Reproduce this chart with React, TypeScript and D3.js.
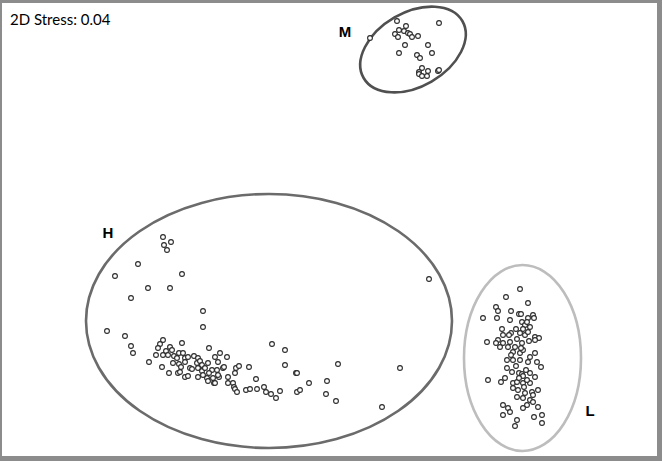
import React from 'react';
import * as d3 from 'd3';

// NMDS ordination scores (axis 1, axis 2)
const groupM: [number, number][] = [
  [0.39, 1.92], [0.66, 2.09], [0.75, 2.04], [0.68, 2.0], [0.64, 1.96], [0.67, 1.93],
  [0.73, 1.99], [0.77, 1.97], [0.79, 1.96], [0.81, 1.93], [0.87, 1.94], [1.08, 2.07],
  [0.74, 1.85], [0.68, 1.77], [0.97, 1.85], [1.01, 1.77], [0.86, 1.75], [0.89, 1.72],
  [0.91, 1.62], [0.88, 1.58], [0.88, 1.56], [0.91, 1.54], [0.97, 1.59], [0.96, 1.54],
  [1.07, 1.59], [1.08, 1.6]
];

const groupH: [number, number][] = [
  [-1.68, -0.07], [-1.67, -0.15], [-1.6, -0.12], [-1.64, -0.2], [-1.93, -0.34], [-2.16, -0.46],
  [-1.49, -0.44], [-1.83, -0.58], [-1.61, -0.58], [-2.0, -0.68], [-1.28, -0.81], [-1.28, -0.97],
  [-2.24, -1.01], [-2.06, -1.06], [-2.0, -1.16], [-1.98, -1.23], [-1.68, -1.1], [-1.71, -1.14],
  [-1.73, -1.18], [-1.75, -1.25], [-1.82, -1.32], [-1.69, -1.37], [-1.65, -1.21], [-1.61, -1.17],
  [-1.59, -1.2], [-1.63, -1.25], [-1.68, -1.25], [-1.62, -1.43], [-1.49, -1.13], [-1.57, -1.26],
  [-1.54, -1.28], [-1.52, -1.23], [-1.48, -1.23], [-1.46, -1.28], [-1.43, -1.27], [-1.58, -1.33],
  [-1.52, -1.34], [-1.5, -1.37], [-1.46, -1.32], [-1.53, -1.43], [-1.51, -1.42], [-1.46, -1.47],
  [-1.43, -1.46], [-1.41, -1.38], [-1.39, -1.39], [-1.37, -1.26], [-1.33, -1.28], [-1.34, -1.33],
  [-1.31, -1.31], [-1.29, -1.35], [-1.33, -1.38], [-1.29, -1.41], [-1.26, -1.38], [-1.23, -1.33],
  [-1.22, -1.18], [-1.16, -1.27], [-1.11, -1.23], [-1.13, -1.32], [-1.19, -1.4], [-1.22, -1.43],
  [-1.24, -1.48], [-1.23, -1.51], [-1.17, -1.53], [-1.18, -1.48], [-1.12, -1.47], [-1.08, -1.38],
  [-1.33, -1.47], [-1.28, -1.45], [-1.04, -1.27], [-1.07, -1.37], [-1.14, -1.4], [-1.13, -1.45],
  [-1.16, -1.53], [-1.03, -1.47], [-1.03, -1.53], [-0.98, -1.53], [-0.96, -1.43], [-0.95, -1.38],
  [-0.92, -1.36], [-0.97, -1.57], [-0.96, -1.59], [-0.94, -1.62], [-0.82, -1.37], [-0.75, -1.49],
  [-0.85, -1.6], [-0.81, -1.59], [-0.74, -1.59], [-0.67, -1.57], [-0.65, -1.62], [-0.6, -1.64],
  [-0.55, -1.68], [-0.51, -1.61], [-0.59, -1.14], [-0.46, -1.2], [-0.46, -1.35], [-0.35, -1.43],
  [-0.34, -1.43], [-0.34, -1.62], [-0.31, -1.6], [-0.22, -1.53], [-0.04, -1.51], [-0.05, -1.64],
  [0.05, -1.71], [0.07, -1.34], [0.51, -1.77], [0.69, -1.38], [0.98, -0.49]
];

const groupL: [number, number][] = [
  [1.89, -0.59], [1.75, -0.67], [1.97, -0.73], [1.65, -0.77], [1.67, -0.81], [1.52, -0.88],
  [1.66, -0.88], [1.8, -0.81], [1.88, -0.84], [1.9, -0.84], [1.79, -0.9], [2.02, -0.85],
  [2.03, -0.88], [1.97, -0.88], [1.91, -0.92], [1.94, -0.95], [1.96, -0.92], [1.85, -0.99],
  [1.92, -0.99], [1.99, -0.97], [1.71, -0.99], [1.72, -1.05], [1.67, -1.1], [1.8, -1.03],
  [1.89, -1.03], [1.94, -1.05], [1.97, -1.02], [2.04, -1.07], [2.08, -1.08], [1.56, -1.12],
  [1.65, -1.13], [1.72, -1.13], [1.79, -1.12], [1.86, -1.09], [1.91, -1.13], [1.98, -1.11],
  [1.84, -1.17], [1.77, -1.17], [1.69, -1.17], [2.04, -1.1], [1.82, -1.22], [1.89, -1.23],
  [1.92, -1.2], [1.99, -1.27], [2.04, -1.23], [1.76, -1.3], [1.82, -1.3], [1.89, -1.3],
  [1.97, -1.32], [2.06, -1.32], [2.1, -1.37], [1.76, -1.38], [1.81, -1.42], [1.88, -1.43],
  [1.91, -1.44], [1.92, -1.46], [1.99, -1.43], [2.04, -1.47], [1.57, -1.5], [1.7, -1.52],
  [1.74, -1.48], [1.82, -1.53], [1.86, -1.52], [1.92, -1.53], [1.99, -1.53], [1.82, -1.58],
  [1.87, -1.6], [1.94, -1.63], [2.01, -1.62], [2.07, -1.6], [2.02, -1.65], [1.86, -1.67],
  [1.92, -1.68], [1.99, -1.7], [2.02, -1.72], [1.96, -1.75], [1.92, -1.78], [2.07, -1.77],
  [1.72, -1.75], [1.77, -1.78], [1.79, -1.82], [1.72, -1.85], [2.11, -1.85], [2.03, -1.87],
  [1.86, -1.9], [2.11, -1.93], [1.84, -1.96], [1.8, -1.25], [1.95, -1.4], [1.85, -1.36],
  [1.9, -1.18], [1.78, -1.05], [1.93, -1.57], [1.96, -1.5], [1.88, -1.48]
];

// group ellipses: centre, radii, rotation (deg), colour, label position
const groupNames = ['H', 'M', 'L'];
const ellipseCx = [-0.62, 0.82, 1.915];
const ellipseCy = [-0.91, 1.805, -1.28];
const ellipseRx = [1.83, 0.57, 0.585];
const ellipseRy = [1.27, 0.37, 0.93];
const ellipseRot = [0, -30, 0];
const ellipseColor = ['#6b6b6b', '#505050', '#bdbdbd'];
const labelX = [-2.23, 0.14, 2.59];
const labelY = [-0.08, 1.93, -1.86];

const stressText = '2D Stress: 0.04';

const W = 662;
const H = 461;

export default function App() {
  const x = d3.scaleLinear().domain([-3.31, 3.31]).range([0, W]);
  const y = d3.scaleLinear().domain([2.3, -2.31]).range([0, H]);
  const unit = x(1) - x(0);

  const points = [...groupH, ...groupM, ...groupL];

  return (
    <svg width={W} height={H} style={{ position: 'fixed', left: 0, top: 0, display: 'block' }}>
      <rect x={0} y={0} width={W} height={H} fill="#8c8c8c" />
      <rect x={2} y={3} width={W - 7} height={H - 8} fill="#ffffff" />
      <text x={10} y={25} fontFamily="Lato, Liberation Sans, sans-serif" fontSize={15} fill="#000">
        {stressText}
      </text>
      {groupNames.map((g, i) => (
        <ellipse
          key={g}
          cx={0}
          cy={0}
          rx={ellipseRx[i] * unit}
          ry={ellipseRy[i] * unit}
          transform={`translate(${x(ellipseCx[i])},${y(ellipseCy[i])}) rotate(${ellipseRot[i]})`}
          fill="none"
          stroke={ellipseColor[i]}
          strokeWidth={2.6}
        />
      ))}
      {groupNames.map((g, i) => (
        <text
          key={'l' + g}
          x={x(labelX[i])}
          y={y(labelY[i])}
          fontFamily="Liberation Sans, Arial, sans-serif"
          fontWeight="bold"
          fontSize={15}
          textAnchor="middle"
          fill="#000"
        >
          {g}
        </text>
      ))}
      <g>
        {points.map((p, i) => (
          <circle key={i} cx={x(p[0])} cy={y(p[1])} r={2.4} fill="#fff" stroke="#2a2a2a" strokeWidth={1.1} />
        ))}
      </g>
    </svg>
  );
}
